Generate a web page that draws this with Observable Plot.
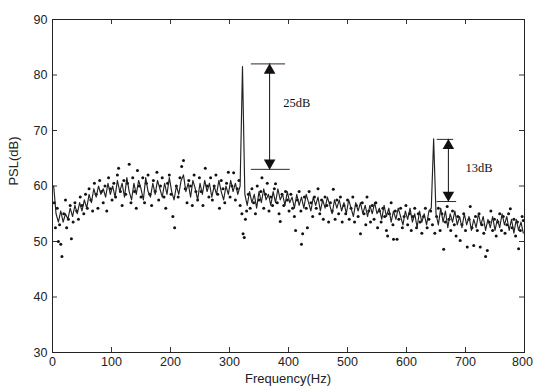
<!DOCTYPE html>
<html>
<head>
<meta charset="utf-8">
<script src="https://cdn.jsdelivr.net/npm/d3@7"></script>
<script src="https://cdn.jsdelivr.net/npm/@observablehq/plot@0.6"></script>
<style>
  html, body { margin: 0; padding: 0; background: #fff; overflow: hidden; }
  #chart { width: 533px; height: 386px; }
</style>
</head>
<body>
<div id="chart"></div>
<script>
// ---- data ----
const xTicks = [0, 100, 200, 300, 400, 500, 600, 700];
const xTickLast = [800];
const yTicks = [30, 40, 50, 60, 70, 80, 90];

// smoothed spectrum (solid line), sampled every 4 Hz starting at 2 Hz
const lineStartHz = 2;
const lineStepHz = 4;
const linePSL = [
  60, 55, 53.5, 55.5, 53.5, 55, 54, 56, 54.5, 56.5,
  55, 57, 55.5, 57.5, 56, 58.5, 57, 59.5, 58, 60,
  58.5, 59.5, 58, 60.5, 58.5, 60, 58, 61, 59, 60.5,
  58, 61.5, 59, 57.5, 60.5, 58.5, 61, 59.5, 57.5, 61.5,
  59, 58, 60.5, 58.5, 61, 59.5, 58, 60.5, 58.5, 61.5,
  59, 57.5, 60, 58.5, 61, 62, 59, 60.5, 58, 61,
  59.5, 57.5, 60.5, 58.5, 61, 59, 60.5, 58, 60, 58.5,
  61, 59, 57.5, 60, 58.5, 61, 59, 60.5, 58.5, 60,
  81.5, 58.5, 56.5, 59, 57, 58.5, 56, 59, 57, 59.5,
  57.5, 58.5, 56.5, 59, 57, 59.5, 57.5, 58.5, 56.5, 59,
  57, 58, 56, 58.5, 56.5, 58, 56, 58.5, 57, 55.5,
  58, 56.5, 58, 55.5, 57.5, 56, 58, 56.5, 55, 57.5,
  56, 57.5, 55.5, 57, 55, 57.5, 56, 54.5, 57, 55.5,
  57, 55, 56.5, 54.5, 56.5, 55, 57, 55, 56, 54,
  56.5, 54.5, 56, 53.5, 55.5, 54, 56, 54.5, 53, 55.5,
  54, 56, 53.5, 55, 52.5, 55.5, 53.5, 55, 53, 55.5,
  56, 68.5, 55, 53, 56, 53.5, 55.5, 52.5, 55, 53.5,
  55.5, 53, 54.5, 52.5, 55, 53, 54.5, 52, 54, 52.5,
  55, 53, 54.5, 52, 54, 52.5, 54.5, 52, 54, 52.5,
  55, 53, 54.5, 52, 54, 51.5, 54, 52, 53.5, 51.5
];

// raw spectrum estimates (dots)
const dotHz = [
  3,5,8,10,12,14,16,19,22,24,27,30,32,35,38,41,44,47,50,53,56,59,
  62,65,68,71,74,77,80,83,86,89,92,95,98,101,104,107,110,112,115,118,121,
  124,127,130,133,136,139,142,144,147,150,153,156,159,162,165,168,171,174,177,180,183,186,189,192,195,198,
  201,204,207,210,213,216,219,222,225,228,231,234,237,240,243,246,249,252,255,259,262,265,268,271,274,277,280,283,286,289,292,295,298,301,304,307,310,313,316,318,
  321,323,325,327,329,332,335,338,341,344,347,350,353,355,358,361,364,367,370,373,376,378,381,384,386,389,392,395,398,
  401,404,407,410,412,415,418,421,422,424,427,430,432,435,438,441,444,447,450,453,456,459,462,465,468,471,474,476,479,482,485,488,491,494,497,
  500,503,506,509,512,515,518,522,525,528,531,533,536,539,542,545,548,551,554,557,560,563,566,568,571,574,577,578,581,584,587,590,593,596,599,602,605,608,611,614,617,620,623,626,629,632,635,638,641,
  644,648,651,654,657,660,663,666,669,672,675,678,681,684,687,691,694,697,700,703,706,708,711,714,717,720,723,725,728,731,734,737,740,743,746,749,752,755,758,761,764,767,770,773,776,779,782,785,788,790,793,796,798
];
const dotPSL = [
  57,52.5,56,50,53,49.5,47.3,55,57.5,52.5,54,56.5,50.5,53.5,57,55.5,54,58,56.5,55,58.5,56,
  59.5,57.5,55.5,60.5,58.5,56,61,59,57,60,55.5,61.5,59.5,57.5,60.5,58,62,63.2,59,56.5,61,
  58.5,60.5,63.9,57,61.5,59,56,62.8,60,58,61.5,57,60.5,62,58.5,56.5,61,59,62.5,57.5,60,61.5,58,56,60.5,62,
  58.5,54.5,52.5,60,58,61.5,63.5,64.6,59.5,57,61,60,56.5,62,59,57.5,61.5,59,56.5,63.2,60,58,61.5,57.5,60,62,58.5,56,61,59.5,57,60.5,62.5,58,60,62.4,57.5,59.5,61,56.5,
  55,51.4,50.7,54,55.5,58.5,56,59.5,57,55,60,57.5,59,61.5,56,58.5,60.5,55.5,58,56.5,59.5,60.4,57,55,53.6,58.5,56.5,59,57.5,
  55.5,58.5,56,54.5,52,57.5,59,55.5,49.5,51.4,58,56,52.5,59,57,54.5,58,56,59.5,55,57.5,54,58,56.5,53.5,57,55.5,59.4,54,57.5,55,58,53.5,56.5,55,
  57.5,54,56,58,53.5,56.5,54.5,51.4,57,55,53,58,55.5,53.5,56.5,54,57,52.5,55.5,53.5,56,54.5,52,51,55,57,53,50.4,55.5,50.4,54,56,52.5,54.5,56.5,53,55,52,54.5,56,52.5,55,53.5,51.5,54.5,56,52.5,54,55.5,
  53,51.5,54.5,56,52,55,48.6,53.5,56.3,54,52,55.5,53,51,54.5,50.2,53,55,52,49,54,56.3,52.5,49.3,54.5,52,55,49,53,51.5,47.3,48.4,53.5,55.5,52,54,51,53.5,55,52,54.5,51.5,53,55,55.9,52.5,54,51,53.5,48.7,52,54.5,53.8
];

// annotations
const annLabels = ["25dB", "13dB"];
const annArrowHz = [368, 671];
const annTopPSL = [82, 68.4];
const annBottomPSL = [63, 57.2];
const annTopFromHz = [337, 652];
const annTopToHz = [395, 680];
const annBottomFromHz = [337, 652];
const annBottomToHz = [403, 685];
const annTextHz = [391, 700];
const annTextPSL = [75, 63.2];

// ---- tables ----
const lineData = linePSL.map((v, i) => ({f: lineStartHz + i * lineStepHz, v}));
const dotData = dotHz.map((f, i) => ({f, v: dotPSL[i]}));
const ann = annLabels.map((label, i) => ({
  label, ax: annArrowHz[i], top: annTopPSL[i], bot: annBottomPSL[i],
  tx1: annTopFromHz[i], tx2: annTopToHz[i], bx1: annBottomFromHz[i], bx2: annBottomToHz[i],
  lx: annTextHz[i], ly: annTextPSL[i]
}));
const allXTicks = xTicks.concat(xTickLast);

const W = 533, H = 386, ML = 52, MR = 9, MT = 19, MB = 34;
const fw = W - ML - MR, fh = H - MT - MB;
const tick = 5;
const headR = 4.3;
const headOff = 6.4;

const chart = Plot.plot({
  width: W, height: H,
  marginLeft: ML, marginRight: MR, marginTop: MT, marginBottom: MB,
  x: {domain: [0, 800]},
  y: {domain: [30, 90]},
  style: {fontFamily: "'Liberation Sans', Arial, sans-serif", fontSize: "12.5px", color: "#222", background: "#fff", overflow: "visible"},
  marks: [
    Plot.axisX(xTicks, {tickSize: 0, tickPadding: 5, label: null, fontSize: 12.5}),
    Plot.axisX(xTickLast, {tickSize: 0, tickPadding: 5, label: null, fontSize: 12.5, dx: -2}),
    Plot.axisY(yTicks, {tickSize: 0, tickPadding: 5, label: null, fontSize: 12.5}),
    Plot.tickX(allXTicks, {x: d => d, insetTop: fh - tick, stroke: "#333"}),
    Plot.tickX(allXTicks, {x: d => d, insetBottom: fh - tick, stroke: "#333"}),
    Plot.tickY(yTicks, {y: d => d, insetRight: fw - tick, stroke: "#333"}),
    Plot.tickY(yTicks, {y: d => d, insetLeft: fw - tick, stroke: "#333"}),
    Plot.dot(dotData, {x: "f", y: "v", r: 1.5, fill: "#111", stroke: "none"}),
    Plot.line(lineData, {x: "f", y: "v", stroke: "#222", strokeWidth: 1.15}),
    Plot.ruleY(ann, {y: "top", x1: "tx1", x2: "tx2", stroke: "#3a2626", strokeWidth: 1}),
    Plot.ruleY(ann, {y: "bot", x1: "bx1", x2: "bx2", stroke: "#3a2626", strokeWidth: 1}),
    Plot.ruleX(ann, {x: "ax", y1: "bot", y2: "top", stroke: "#111", strokeWidth: 1}),
    Plot.dot(ann, {x: "ax", y: "top", symbol: "triangle", r: headR, fill: "#111", stroke: "none", dy: headOff}),
    Plot.dot(ann, {x: "ax", y: "bot", symbol: "triangle", r: headR, fill: "#111", stroke: "none", rotate: 180, dy: -headOff}),
    Plot.text(ann, {x: "lx", y: "ly", text: "label", textAnchor: "start", fontFamily: "'Liberation Serif', 'Times New Roman', serif", fontSize: 12.5, fill: "#111"}),
    Plot.frame({stroke: "#222", strokeWidth: 1})
  ]
});

const svg = d3.select(chart);
svg.append("text")
  .attr("x", ML + fw / 2).attr("y", 383)
  .attr("text-anchor", "middle")
  .attr("font-size", 13).attr("fill", "#222")
  .text("Frequency(Hz)");
svg.append("text")
  .attr("transform", "translate(18,161) rotate(-90)")
  .attr("text-anchor", "middle")
  .attr("font-size", 13).attr("fill", "#222")
  .text("PSL(dB)");

document.getElementById("chart").appendChild(chart);
</script>
</body>
</html>
